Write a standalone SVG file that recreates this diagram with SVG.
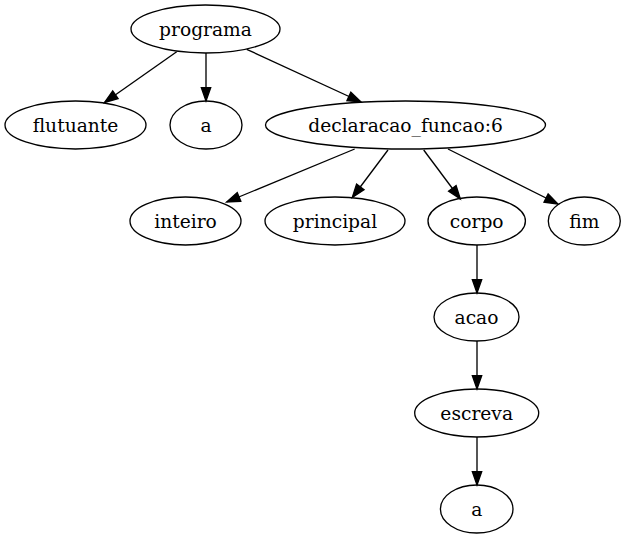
<svg xmlns="http://www.w3.org/2000/svg" width="626" height="539" viewBox="0 0 626 539">
  <style>
    .node ellipse { fill: none; stroke: #000; stroke-width: 1.33; }
    .node text { font-family: "DejaVu Serif", "Liberation Serif", serif; font-size: 18.67px; text-anchor: middle; fill: #000; }
    #edges line { stroke: #000; stroke-width: 1.33; marker-end: url(#arrow); }
  </style>
  <defs>
    <marker id="arrow" markerUnits="userSpaceOnUse" markerWidth="16" markerHeight="12" refX="13.33" refY="4.67" orient="auto" overflow="visible">
      <path d="M0,0 L13.33,4.67 L0,9.33 Z" fill="#000" stroke="#000" stroke-width="1.33"/>
    </marker>
  </defs>
  <rect width="626" height="539" fill="#fff"/>

  <g id="edges">
    <line x1="176.7" y1="51.7" x2="104.5" y2="102.5"/>
    <line x1="206" y1="53" x2="206" y2="101"/>
    <line x1="246.7" y1="49.3" x2="361" y2="102"/>
    <line x1="354.7" y1="149" x2="226.7" y2="202"/>
    <line x1="388" y1="150" x2="352.3" y2="197.5"/>
    <line x1="423.7" y1="150" x2="460.3" y2="199"/>
    <line x1="448" y1="149" x2="558" y2="204"/>
    <line x1="477" y1="245" x2="477" y2="293"/>
    <line x1="477" y1="341" x2="477" y2="389"/>
    <line x1="477" y1="437" x2="477" y2="485"/>
  </g>

  <g id="programa" class="node"><ellipse cx="205.5" cy="29" rx="74.5" ry="24"/><text x="205.5" y="35.5">programa</text></g>
  <g id="flutuante" class="node"><ellipse cx="75.5" cy="125" rx="70.5" ry="24"/><text x="75.5" y="131.5">flutuante</text></g>
  <g id="a1" class="node"><ellipse cx="206" cy="125" rx="36" ry="24"/><text x="206" y="131.5">a</text></g>
  <g id="declaracao_funcao" class="node"><ellipse cx="405.5" cy="125" rx="140" ry="24"/><text x="405.5" y="131.5">declaracao_funcao:6</text></g>
  <g id="inteiro" class="node"><ellipse cx="185.5" cy="221" rx="55.5" ry="24"/><text x="185.5" y="227.5">inteiro</text></g>
  <g id="principal" class="node"><ellipse cx="335" cy="221" rx="70" ry="24"/><text x="335" y="227.5">principal</text></g>
  <g id="corpo" class="node"><ellipse cx="476.7" cy="221" rx="48.7" ry="24"/><text x="476.7" y="227.5">corpo</text></g>
  <g id="fim" class="node"><ellipse cx="584.3" cy="221" rx="36" ry="24"/><text x="584.3" y="227.5">fim</text></g>
  <g id="acao" class="node"><ellipse cx="476.5" cy="317" rx="42.5" ry="24"/><text x="476.5" y="323.5">acao</text></g>
  <g id="escreva" class="node"><ellipse cx="476.7" cy="413" rx="62" ry="24"/><text x="476.7" y="419.5">escreva</text></g>
  <g id="a2" class="node"><ellipse cx="476.7" cy="509" rx="36.3" ry="24"/><text x="476.7" y="515.5">a</text></g>
</svg>
